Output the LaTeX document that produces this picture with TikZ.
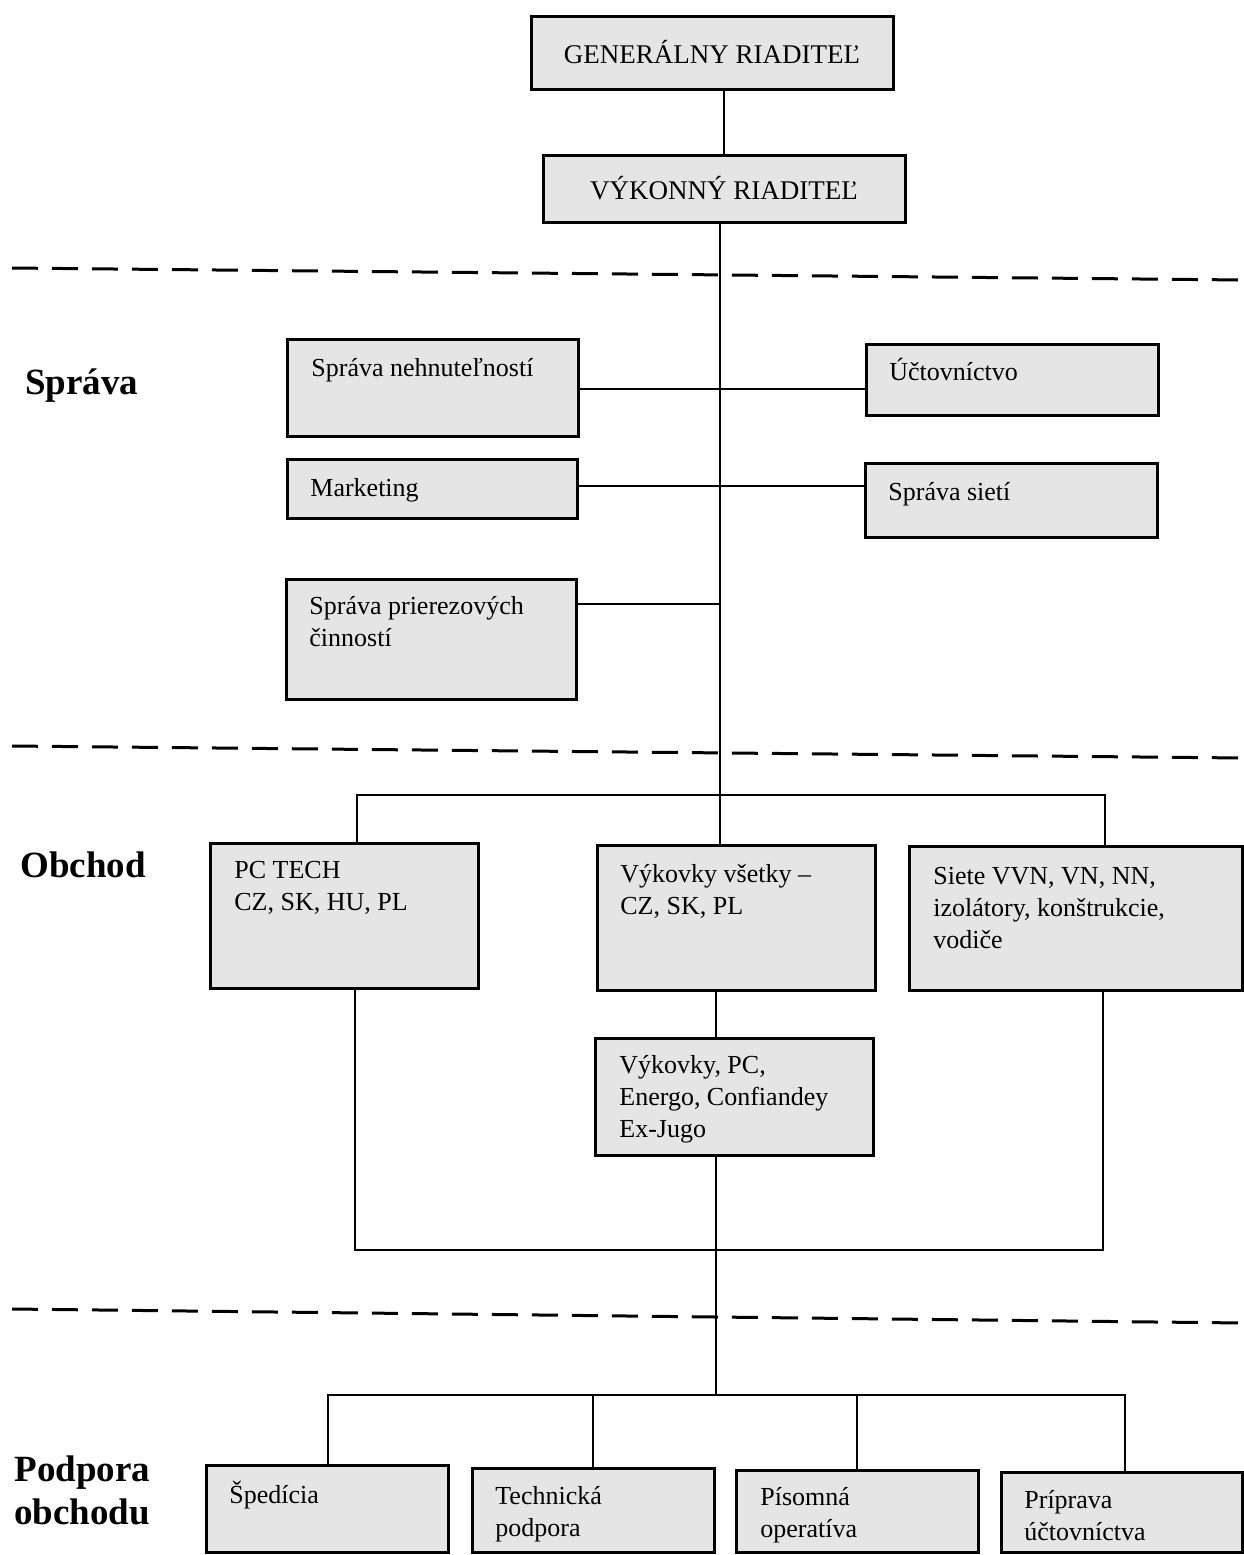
\documentclass[tikz,border=0pt]{standalone}
\usepackage{fontspec}
\setmainfont{Liberation Serif}
\begin{document}
\begin{tikzpicture}[x=0.5pt,y=-0.5pt,
  box/.style={draw, line width=1.5pt, fill=gray!20, inner sep=0pt},
  txt/.style={anchor=north west, inner sep=0pt, align=left, font=\fontsize{13}{16}\selectfont},
  ttl/.style={font=\fontsize{13.5}{16}\selectfont},
  sect/.style={inner sep=0pt, align=left, font=\bfseries\fontsize{18.5}{21.5}\selectfont},
  conn/.style={line width=1.1pt},
  sep/.style={line width=1.5pt, dash pattern=on 13pt off 7pt}]
\useasboundingbox (0,0) rectangle (1244,1555);

% separators
\draw[sep] (12,268) -- (1244,280);
\draw[sep] (12,746) -- (1244,758);
\draw[sep] (12,1309) -- (1244,1323);

% section labels
\node[sect, anchor=base west] (lsprava) at (25,394) {Správa};
\node[sect, anchor=base west] (lobchod) at (20,877) {Obchod};
\node[sect, anchor=north west] (lpodpora) at (14,1451) {\strut Podpora\\obchodu};

% boxes
\node[box, minimum width=181pt, minimum height=36.5pt, ttl] (gr) at (712,52.5) {GENERÁLNY RIADITEĽ};
\node[box, minimum width=181pt, minimum height=33.5pt, ttl] (vr) at (724,188.5) {VÝKONNÝ RIADITEĽ};

\node[box, minimum width=145.5pt, minimum height=48.5pt] (spn) at (432.5,387.5) {};
\node[box, minimum width=146pt, minimum height=35.5pt] (uct) at (1012,379.5) {};
\node[box, minimum width=145pt, minimum height=29.5pt] (mkt) at (432,488.5) {};
\node[box, minimum width=146pt, minimum height=37pt] (sie) at (1011,500) {};
\node[box, minimum width=145pt, minimum height=60pt] (spp) at (431,639) {};

\node[box, minimum width=134pt, minimum height=72.5pt] (pct) at (344,915.5) {};
\node[box, minimum width=139pt, minimum height=72.5pt] (vyk1) at (736,917.5) {};
\node[box, minimum width=166.5pt, minimum height=72pt] (sit) at (1075.5,918) {};
\node[box, minimum width=139pt, minimum height=58.5pt] (vyk2) at (734,1096.5) {};

\node[box, minimum width=121pt, minimum height=43.5pt] (sped) at (327,1508.5) {};
\node[box, minimum width=121pt, minimum height=42pt] (tech) at (593,1510) {};
\node[box, minimum width=121pt, minimum height=41pt] (pis) at (857,1511) {};
\node[box, minimum width=120.5pt, minimum height=40pt] (pri) at (1121.5,1512) {};

% box texts
\node[txt] (spn-t) at (311,354) {\strut Správa nehnuteľností};
\node[txt] (uct-t) at (889,358) {\strut Účtovníctvo};
\node[txt] (mkt-t) at (310,474) {\strut Marketing};
\node[txt] (sie-t) at (888,478) {\strut Správa sietí};
\node[txt] (spp-t) at (309,592) {\strut Správa prierezových\\činností};
\node[txt] (pct-t) at (234,856) {\strut PC TECH\\CZ, SK, HU, PL};
\node[txt] (vyk1-t) at (620,860) {\strut Výkovky všetky –\\CZ, SK, PL};
\node[txt] (sit-t) at (933,862) {\strut Siete VVN, VN, NN,\\izolátory, konštrukcie,\\vodiče};
\node[txt] (vyk2-t) at (619,1051) {\strut Výkovky, PC,\\Energo, Confiandey\\Ex-Jugo};
\node[txt] (sped-t) at (229,1481) {\strut Špedícia};
\node[txt] (tech-t) at (495,1482) {\strut Technická\\podpora};
\node[txt] (pis-t) at (760,1483) {\strut Písomná\\operatíva};
\node[txt] (pri-t) at (1024,1486) {\strut Príprava\\účtovníctva};

% coordinates
\coordinate (j1) at (720,389);
\coordinate (j2) at (720,486);
\coordinate (j3) at (720,604);
\coordinate (ob) at (720,795);
\coordinate (obl) at (357,795);
\coordinate (obr) at (1105,795);
\coordinate (lb) at (355,1250);
\coordinate (rb) at (1103,1250);
\coordinate (t2) at (716,1395);
\coordinate (bl) at (328,1395);
\coordinate (br) at (1125,1395);

% connectors
\draw[conn] (vr.north) -- (vr.north |- gr.south);
\draw[conn] (ob |- vr.south) -- (ob);
\draw[conn] (j1 -| spn.east) -- (j1 -| uct.west);
\draw[conn] (j2 -| mkt.east) -- (j2 -| sie.west);
\draw[conn] (j3) -- (j3 -| spp.east);
\draw[conn] (obl |- pct.north) -- (obl) -- (obr) -- (obr |- sit.north);
\draw[conn] (ob) -- (ob |- vyk1.north);
\draw[conn] (lb |- pct.south) -- (lb) -- (rb) -- (rb |- sit.south);
\draw[conn] (t2 |- vyk1.south) -- (t2 |- vyk2.north);
\draw[conn] (t2 |- vyk2.south) -- (t2);
\draw[conn] (bl |- sped.north) -- (bl) -- (br) -- (br |- pri.north);
\draw[conn] (tech.north |- t2) -- (tech.north);
\draw[conn] (pis.north |- t2) -- (pis.north);
\end{tikzpicture}
\end{document}
